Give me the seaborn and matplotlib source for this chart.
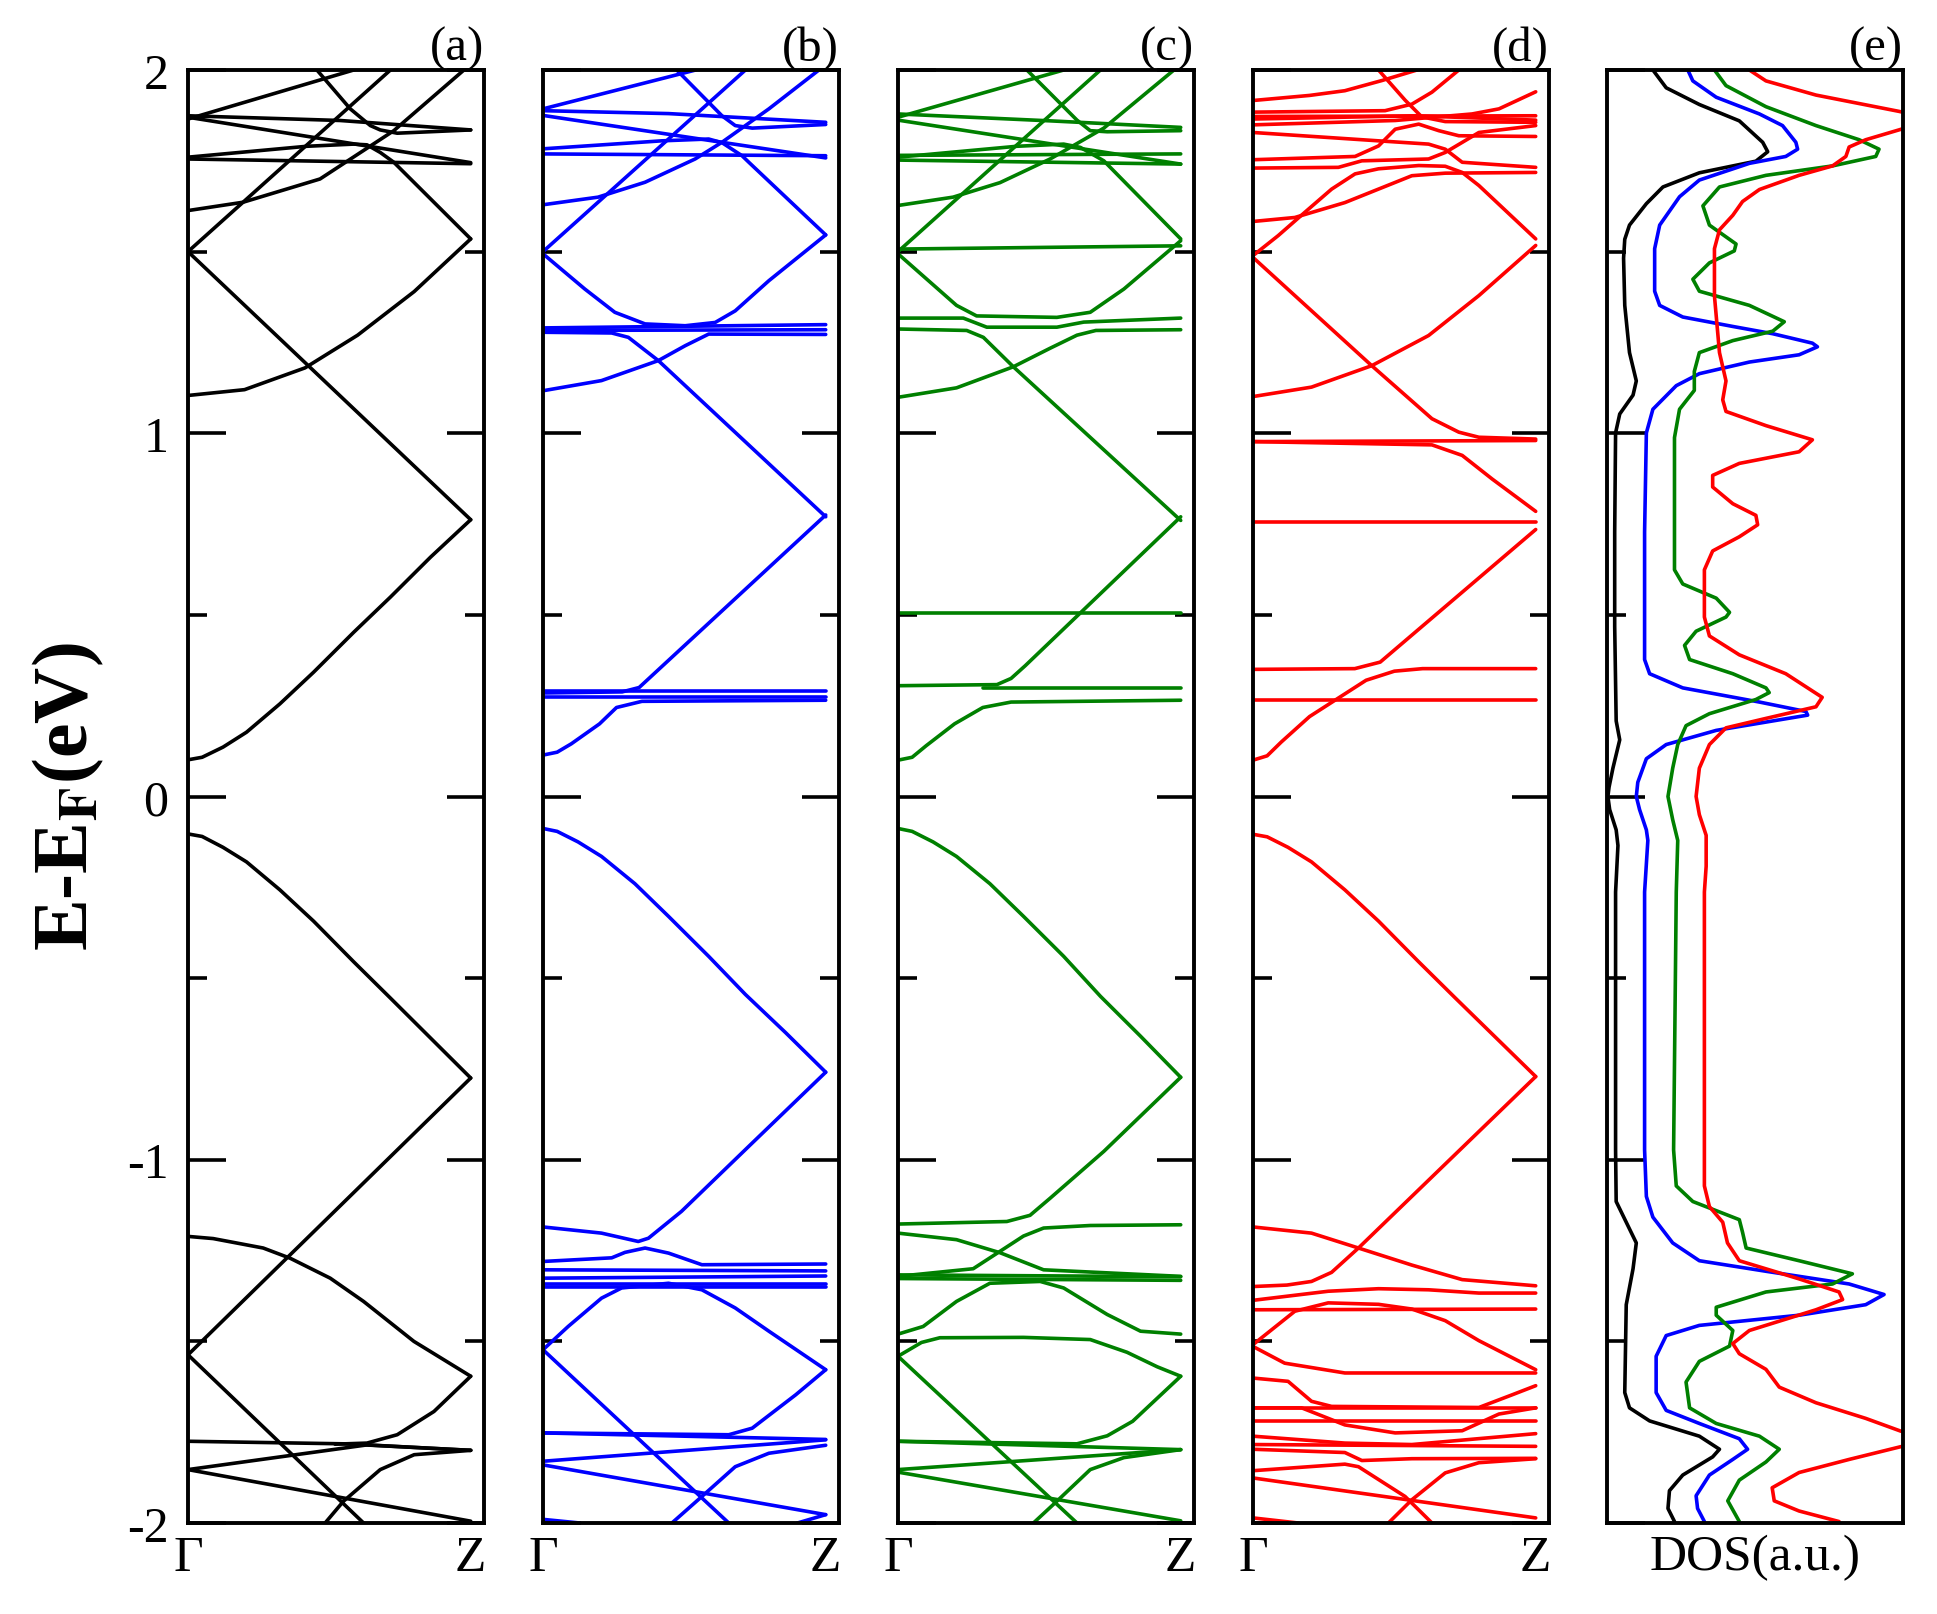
import pandas as pd
import matplotlib
matplotlib.use("Agg")
import matplotlib.pyplot as plt
from matplotlib.ticker import MultipleLocator
import seaborn as sns

# band structures: (k, E) points read along each band, k: Gamma=0, Z=1
bands_a = [
    [(0, 0.101), (0.05, 0.108), (0.124, 0.136), (0.207, 0.177), (0.325, 0.255), (0.444, 0.342), (0.586, 0.452), (0.716, 0.549), (0.858, 0.659), (1, 0.762)],
    [(0, 1.50), (1, 0.762)],
    [(0, 1.50), (0.716, 2.0), (0.75, 2.03)],
    [(0, 1.104), (0.2, 1.12), (0.414, 1.18), (0.6, 1.27), (0.8, 1.39), (1, 1.535)],
    [(0, 1.613), (0.195, 1.636), (0.467, 1.70), (0.728, 1.833), (0.976, 2.0), (1.0, 2.02)],
    [(0, 1.865), (0.586, 2.0), (0.62, 2.01)],
    [(0, 1.874), (0.538, 1.861), (1, 1.835)],
    [(0, 1.870), (1, 1.745)],
    [(0, 1.755), (1, 1.742)],
    [(0, 1.760), (0.42, 1.790), (0.586, 1.796), (0.633, 1.794), (0.68, 1.773), (0.728, 1.746), (1, 1.535)],
    [(0.43, 2.02), (0.456, 2.0), (0.574, 1.893), (0.645, 1.847), (0.68, 1.835), (0.74, 1.826), (1, 1.835)],
    [(0, -0.103), (0.05, -0.11), (0.124, -0.14), (0.207, -0.18), (0.325, -0.257), (0.444, -0.343), (0.586, -0.455), (0.716, -0.555), (0.858, -0.665), (1, -0.775)],
    [(1, -0.775), (0, -1.537)],
    [(0, -1.537), (0.621, -2.0), (0.65, -2.02)],
    [(0, -1.211), (0.089, -1.217), (0.266, -1.243), (0.361, -1.271), (0.503, -1.326), (0.621, -1.39), (0.799, -1.50), (1, -1.596)],
    [(0, -1.775), (0.55, -1.782), (1, -1.80)],
    [(0.52, -1.783), (0.633, -1.78), (0.74, -1.757), (0.87, -1.693), (1, -1.596)],
    [(0, -1.853), (0.633, -1.785), (1, -1.80)],
    [(0, -1.853), (1, -1.995)],
    [(0.46, -2.02), (0.485, -2.0), (0.55, -1.94), (0.68, -1.853), (0.8, -1.812), (1, -1.80)],
]

bands_b = [
    [(0, 1.5), (0.716, 2.0), (0.75, 2.03)],
    [(0, 1.629), (0.195, 1.65), (0.361, 1.691), (0.538, 1.755), (0.633, 1.801), (0.799, 1.893), (0.976, 2.0), (1.0, 2.02)],
    [(0, 1.494), (0.148, 1.397), (0.254, 1.333), (0.361, 1.301), (0.503, 1.296), (0.609, 1.305), (0.68, 1.337), (0.799, 1.42), (1, 1.546)],
    [(0, 1.278), (0.243, 1.276), (0.302, 1.264), (0.408, 1.2), (1, 0.77)],
    [(0, 1.117), (0.207, 1.145), (0.408, 1.2), (0.503, 1.241), (0.586, 1.273), (1, 1.272)],
    [(0, 1.29), (1, 1.299)],
    [(0, 1.283), (1, 1.285)],
    [(0, 1.893), (0.54, 2.0), (0.56, 2.01)],
    [(0, 1.888), (0.444, 1.88), (1, 1.856)],
    [(0, 1.875), (1, 1.758)],
    [(0, 1.769), (1, 1.764)],
    [(0, 1.783), (0.42, 1.805), (0.586, 1.81), (0.633, 1.80), (0.704, 1.764), (0.728, 1.746), (1, 1.546)],
    [(0.45, 2.02), (0.473, 2.0), (0.633, 1.874), (0.68, 1.847), (0.74, 1.84), (1, 1.85)],
    [(0, 0.114), (0.05, 0.122), (0.1, 0.145), (0.2, 0.2), (0.26, 0.245), (0.35, 0.262), (1, 0.265)],
    [(0, 0.285), (0.28, 0.288), (0.34, 0.30), (1, 0.775)],
    [(0, 0.29), (1, 0.29)],
    [(0, 0.275), (1, 0.275)],
    [(0, -0.088), (0.05, -0.096), (0.124, -0.125), (0.207, -0.165), (0.325, -0.24), (0.444, -0.33), (0.586, -0.44), (0.716, -0.545), (0.858, -0.65), (1, -0.759)],
    [(1, -0.759), (0.728, -0.963), (0.49, -1.142), (0.373, -1.216), (0.337, -1.225), (0.207, -1.202), (0, -1.185)],
    [(0, -1.28), (0.243, -1.27), (0.29, -1.255), (0.361, -1.243), (0.444, -1.257), (0.562, -1.289), (1, -1.287)],
    [(0, -1.303), (1, -1.306)],
    [(0, -1.326), (1, -1.32)],
    [(0, -1.343), (1, -1.343)],
    [(0, -1.35), (1, -1.35)],
    [(0, -1.523), (0.089, -1.459), (0.207, -1.381), (0.278, -1.353), (0.444, -1.34), (0.562, -1.358), (0.68, -1.408), (0.799, -1.472), (1, -1.578)],
    [(0, -1.523), (0.657, -2.0), (0.68, -2.02)],
    [(0, -1.752), (0.657, -1.757), (0.74, -1.739), (0.894, -1.647), (1, -1.578)],
    [(0, -1.752), (1, -1.77)],
    [(0, -1.83), (1, -1.771)],
    [(0.43, -2.02), (0.456, -2.0), (0.562, -1.927), (0.68, -1.845), (0.799, -1.808), (1, -1.786)],
    [(0, -1.84), (1, -1.977)],
    [(0, -1.99), (0.13, -2.0), (0.15, -2.01)],
    [(0.88, -2.01), (0.9, -2.0), (1, -1.977)],
]

bands_c = [
    [(0, 1.5), (0.716, 2.0), (0.75, 2.03)],
    [(0, 1.507), (1, 1.516)],
    [(0, 1.627), (0.195, 1.65), (0.361, 1.69), (0.538, 1.755), (0.728, 1.84), (0.976, 2.0), (1.0, 2.02)],
    [(0, 1.099), (0.207, 1.125), (0.408, 1.183), (0.538, 1.234), (0.633, 1.27), (0.7, 1.283), (1, 1.285)],
    [(0, 1.287), (0.243, 1.283), (0.302, 1.264), (0.408, 1.183), (1, 0.76)],
    [(0, 1.494), (0.207, 1.352), (0.278, 1.323), (0.562, 1.319), (0.68, 1.333), (0.799, 1.397), (1, 1.53)],
    [(0, 1.317), (0.231, 1.317), (0.314, 1.292), (0.562, 1.292), (0.657, 1.306), (1, 1.317)],
    [(0, 1.87), (0.586, 2.0), (0.62, 2.01)],
    [(0, 1.879), (0.538, 1.86), (1, 1.842)],
    [(0, 1.862), (1, 1.741)],
    [(0, 1.765), (1, 1.769)],
    [(0, 1.752), (1, 1.741)],
    [(0, 1.76), (0.42, 1.79), (0.586, 1.796), (0.645, 1.787), (0.728, 1.75), (1, 1.535)],
    [(0.43, 2.02), (0.456, 2.0), (0.633, 1.862), (0.68, 1.833), (0.74, 1.83), (1, 1.833)],
    [(0, 0.10), (0.05, 0.108), (0.1, 0.14), (0.2, 0.2), (0.3, 0.245), (0.4, 0.26), (1, 0.265)],
    [(0, 0.305), (0.35, 0.308), (0.40, 0.325), (0.45, 0.36), (1, 0.77)],
    [(0.3, 0.30), (1, 0.30)],
    [(0, 0.505), (1, 0.505)],
    [(0, -0.088), (0.05, -0.096), (0.124, -0.125), (0.207, -0.165), (0.325, -0.24), (0.444, -0.33), (0.586, -0.44), (0.716, -0.55), (0.858, -0.66), (1, -0.773)],
    [(1, -0.773), (0.728, -0.977), (0.538, -1.106), (0.467, -1.153), (0.385, -1.17), (0, -1.177)],
    [(0, -1.321), (0.266, -1.30), (0.361, -1.252), (0.444, -1.21), (0.515, -1.188), (0.68, -1.181), (1, -1.179)],
    [(0, -1.202), (0.207, -1.22), (0.361, -1.256), (0.515, -1.303), (1, -1.321)],
    [(0, -1.317), (1, -1.322)],
    [(0, -1.327), (1, -1.332)],
    [(0, -1.48), (0.089, -1.459), (0.207, -1.39), (0.325, -1.34), (0.503, -1.335), (0.586, -1.353), (0.74, -1.426), (0.858, -1.472), (1, -1.48)],
    [(0, -1.541), (0.083, -1.503), (0.148, -1.49), (0.444, -1.489), (0.68, -1.495), (0.81, -1.53), (0.917, -1.57), (1, -1.596)],
    [(0, -1.541), (0.633, -2.0), (0.66, -2.02)],
    [(0, -1.775), (0.633, -1.782), (0.74, -1.76), (0.83, -1.72), (1, -1.596)],
    [(0, -1.775), (1, -1.798)],
    [(0, -1.853), (1, -1.798)],
    [(0, -1.86), (1, -1.994)],
    [(0.45, -2.02), (0.479, -2.0), (0.562, -1.94), (0.68, -1.853), (0.799, -1.82), (1, -1.798)],
]

bands_d = [
    [(0, 1.916), (0.2, 1.93), (0.325, 1.943), (0.456, 1.971), (0.58, 2.0), (0.6, 2.01)],
    [(0.42, 2.02), (0.444, 2.0), (0.538, 1.917), (0.597, 1.871), (0.68, 1.858), (1, 1.856)],
    [(0, 1.884), (0.467, 1.888), (0.562, 1.906), (0.633, 1.939), (0.728, 2.0), (0.75, 2.02)],
    [(0, 1.872), (1, 1.874)],
    [(0, 1.865), (0.574, 1.874), (1, 1.862)],
    [(0, 1.849), (0.503, 1.861), (0.775, 1.879), (0.87, 1.893), (1, 1.94)],
    [(0, 1.828), (0.444, 1.805), (0.621, 1.796), (0.68, 1.782), (0.74, 1.746), (1, 1.732)],
    [(0, 1.753), (0.361, 1.762), (0.444, 1.791), (0.503, 1.837), (0.586, 1.851), (0.657, 1.833), (0.728, 1.819), (1, 1.817)],
    [(0, 1.73), (0.302, 1.732), (0.385, 1.75), (0.621, 1.755), (0.68, 1.773), (0.799, 1.828), (1, 1.847)],
    [(0, 1.489), (0.089, 1.544), (0.183, 1.608), (0.278, 1.672), (0.361, 1.714), (0.444, 1.728), (0.586, 1.737), (0.68, 1.735), (0.74, 1.718), (0.799, 1.682), (1, 1.535)],
    [(0, 1.583), (0.148, 1.594), (0.325, 1.635), (0.562, 1.709), (0.68, 1.716), (1, 1.718)],
    [(0, 1.101), (0.207, 1.127), (0.42, 1.186), (0.621, 1.269), (0.799, 1.379), (1, 1.517)],
    [(0, 1.484), (0.42, 1.186), (0.633, 1.04), (0.728, 1.003), (0.799, 0.989), (1, 0.984)],
    [(0, 0.977), (0.633, 0.968), (0.74, 0.939), (0.846, 0.874), (1, 0.785)],
    [(0, 0.977), (1, 0.98)],
    [(0, 0.757), (1, 0.757)],
    [(0, 0.35), (0.36, 0.352), (0.45, 0.37), (1, 0.735)],
    [(0, 0.10), (0.05, 0.112), (0.1, 0.15), (0.2, 0.22), (0.3, 0.27), (0.4, 0.32), (0.5, 0.345), (0.6, 0.352), (1, 0.352)],
    [(0, 0.265), (1, 0.265)],
    [(0, -0.104), (0.05, -0.111), (0.124, -0.14), (0.207, -0.18), (0.325, -0.257), (0.444, -0.343), (0.586, -0.455), (0.716, -0.555), (0.858, -0.663), (1, -0.771)],
    [(1, -0.771), (0.373, -1.243), (0.278, -1.31), (0.207, -1.335), (0.12, -1.345), (0, -1.349)],
    [(0, -1.185), (0.207, -1.202), (0.373, -1.243), (0.562, -1.29), (0.74, -1.33), (1, -1.347)],
    [(0, -1.387), (0.266, -1.362), (0.444, -1.355), (0.621, -1.358), (0.799, -1.367), (1, -1.367)],
    [(0, -1.413), (1, -1.411)],
    [(0, -1.509), (0.148, -1.417), (0.266, -1.394), (0.444, -1.398), (0.562, -1.411), (0.68, -1.443), (0.799, -1.498), (1, -1.578)],
    [(0, -1.514), (0.112, -1.56), (0.325, -1.587), (1, -1.587)],
    [(0, -1.601), (0.124, -1.61), (0.207, -1.665), (0.278, -1.679), (0.799, -1.682), (0.917, -1.647), (1, -1.622)],
    [(0, -1.683), (1, -1.683)],
    [(0, -1.683), (0.172, -1.683), (0.325, -1.73), (0.503, -1.752), (0.74, -1.746), (0.87, -1.70), (1, -1.683)],
    [(0, -1.718), (1, -1.718)],
    [(0, -1.761), (0.325, -1.78), (0.562, -1.784), (1, -1.754)],
    [(0, -1.784), (1, -1.789)],
    [(0, -1.797), (0.325, -1.806), (0.385, -1.828), (0.562, -1.823), (1, -1.822)],
    [(0, -1.856), (0.325, -1.838), (0.373, -1.845), (0.538, -1.927), (0.633, -2.0), (0.65, -2.02)],
    [(0, -1.876), (1, -1.986)],
    [(0.45, -2.02), (0.479, -2.0), (0.562, -1.936), (0.68, -1.862), (0.799, -1.834), (1, -1.823)],
    [(0, -1.986), (0.16, -2.0), (0.18, -2.01)],
]

# DOS curves: (DOS, E), DOS in arbitrary units (offset per system)
dos_black = [
    (0.155, 2.0), (0.2, 1.951), (0.312, 1.905), (0.447, 1.86), (0.526, 1.801), (0.543, 1.775), (0.503, 1.749),
    (0.312, 1.717), (0.189, 1.678), (0.133, 1.632), (0.076, 1.573), (0.06, 1.534), (0.056, 1.482), (0.06, 1.352),
    (0.076, 1.222), (0.099, 1.144), (0.088, 1.105), (0.043, 1.053), (0.029, 1.001), (0.026, 0.728), (0.026, 0.468),
    (0.031, 0.208), (0.043, 0.156), (0.02, 0.078), (0.007, 0.026), (0.003, 0.0), (0.009, -0.036), (0.031, -0.092),
    (0.037, -0.135), (0.029, -0.263), (0.029, -0.973), (0.031, -1.115), (0.065, -1.172), (0.099, -1.229),
    (0.088, -1.3), (0.065, -1.399), (0.06, -1.641), (0.076, -1.683), (0.144, -1.719), (0.312, -1.761),
    (0.38, -1.797), (0.357, -1.818), (0.256, -1.868), (0.211, -1.911), (0.206, -1.96), (0.228, -1.996),
]
dos_blue = [
    (0.273, 2.0), (0.29, 1.97), (0.369, 1.925), (0.515, 1.879), (0.593, 1.847), (0.638, 1.801), (0.644, 1.782),
    (0.604, 1.762), (0.481, 1.743), (0.312, 1.697), (0.245, 1.651), (0.178, 1.573), (0.161, 1.508), (0.161, 1.391),
    (0.178, 1.352), (0.256, 1.32), (0.425, 1.294), (0.56, 1.274), (0.694, 1.248), (0.711, 1.238), (0.649, 1.216),
    (0.481, 1.196), (0.312, 1.164), (0.234, 1.131), (0.155, 1.066), (0.133, 1.001), (0.127, 0.728), (0.127, 0.377),
    (0.144, 0.338), (0.256, 0.299), (0.515, 0.26), (0.672, 0.234), (0.678, 0.224), (0.56, 0.208), (0.369, 0.182),
    (0.2, 0.143), (0.133, 0.104), (0.104, 0.039), (0.099, 0.0), (0.11, -0.036), (0.133, -0.092), (0.138, -0.121),
    (0.127, -0.263), (0.127, -0.973), (0.133, -1.101), (0.155, -1.158), (0.222, -1.229), (0.312, -1.278),
    (0.537, -1.307), (0.818, -1.342), (0.936, -1.371), (0.874, -1.399), (0.649, -1.428), (0.312, -1.456),
    (0.2, -1.484), (0.166, -1.541), (0.166, -1.641), (0.2, -1.69), (0.312, -1.726), (0.447, -1.768),
    (0.475, -1.797), (0.425, -1.825), (0.346, -1.868), (0.301, -1.925), (0.306, -1.96), (0.329, -1.996),
]
dos_green = [
    (0.363, 2.0), (0.402, 1.957), (0.537, 1.899), (0.706, 1.847), (0.852, 1.808), (0.919, 1.782), (0.908, 1.762),
    (0.762, 1.736), (0.537, 1.71), (0.38, 1.678), (0.324, 1.626), (0.346, 1.573), (0.436, 1.521), (0.43, 1.502),
    (0.346, 1.469), (0.29, 1.424), (0.312, 1.391), (0.481, 1.352), (0.599, 1.307), (0.56, 1.281), (0.425, 1.255),
    (0.312, 1.222), (0.295, 1.17), (0.295, 1.118), (0.245, 1.066), (0.228, 0.988), (0.228, 0.728), (0.228, 0.624),
    (0.256, 0.585), (0.369, 0.546), (0.414, 0.507), (0.402, 0.494), (0.301, 0.455), (0.262, 0.416), (0.279, 0.377),
    (0.425, 0.338), (0.537, 0.299), (0.548, 0.286), (0.503, 0.267), (0.346, 0.228), (0.267, 0.195), (0.239, 0.143),
    (0.222, 0.078), (0.206, 0.0), (0.222, -0.064), (0.239, -0.121), (0.234, -0.263), (0.225, -0.973),
    (0.234, -1.072), (0.29, -1.115), (0.447, -1.165), (0.458, -1.2), (0.47, -1.243), (0.649, -1.278),
    (0.829, -1.314), (0.762, -1.342), (0.537, -1.364), (0.369, -1.406), (0.369, -1.428), (0.425, -1.47),
    (0.414, -1.513), (0.312, -1.555), (0.267, -1.612), (0.279, -1.683), (0.369, -1.726), (0.515, -1.761),
    (0.582, -1.797), (0.537, -1.832), (0.447, -1.882), (0.408, -1.939), (0.447, -1.996),
]
dos_red = [
    (0.481, 2.0), (0.537, 1.97), (0.706, 1.931), (0.987, 1.886), (1.1, 1.865), (0.99, 1.836), (0.874, 1.808),
    (0.818, 1.788), (0.807, 1.762), (0.762, 1.736), (0.649, 1.71), (0.515, 1.671), (0.458, 1.638), (0.425, 1.6),
    (0.38, 1.56), (0.363, 1.508), (0.363, 1.378), (0.38, 1.222), (0.402, 1.144), (0.391, 1.092), (0.402, 1.06),
    (0.537, 1.021), (0.694, 0.982), (0.649, 0.949), (0.447, 0.917), (0.357, 0.884), (0.357, 0.852), (0.425, 0.806),
    (0.503, 0.774), (0.509, 0.748), (0.447, 0.715), (0.357, 0.676), (0.329, 0.624), (0.329, 0.494), (0.346, 0.442),
    (0.447, 0.39), (0.604, 0.338), (0.727, 0.273), (0.706, 0.247), (0.537, 0.215), (0.402, 0.189), (0.346, 0.143),
    (0.312, 0.078), (0.301, 0.0), (0.312, -0.05), (0.335, -0.107), (0.335, -0.192), (0.329, -0.263),
    (0.329, -1.072), (0.346, -1.129), (0.391, -1.172), (0.407, -1.229), (0.447, -1.278), (0.649, -1.328),
    (0.784, -1.364), (0.796, -1.385), (0.706, -1.413), (0.481, -1.47), (0.425, -1.506), (0.447, -1.534),
    (0.537, -1.577), (0.582, -1.626), (0.706, -1.669), (0.874, -1.712), (0.992, -1.747), (1.1, -1.77),
    (0.992, -1.79), (0.818, -1.825), (0.649, -1.861), (0.558, -1.903), (0.565, -1.939), (0.649, -1.967),
    (0.784, -1.996),
]

panel_labels = ["(a)", "(b)", "(c)", "(d)", "(e)"]
colors = ["black", "#0000ff", "#008000", "#ff0000"]
kpath_labels = ["\u0393", "Z"]
ytick_values = [-2, -1, 0, 1, 2]
ytick_labels = ["-2", "-1", "0", "1", "2"]


def band_frame(bands):
    rows = []
    for i, band in enumerate(bands):
        for k, e in band:
            rows.append((i, k, e))
    return pd.DataFrame(rows, columns=["band", "k", "E"])


sns.set_style("ticks")
plt.rcParams["font.family"] = ["Liberation Serif", "DejaVu Serif"]
plt.rcParams["mathtext.fontset"] = "stix"
plt.rcParams["lines.solid_joinstyle"] = "round"
plt.rcParams["lines.linewidth"] = 2.6

fig = plt.figure(figsize=(19.37, 16.15), dpi=100)
lefts = [188, 543, 898, 1253, 1607]
axes = [fig.add_axes([l / 1937, 91 / 1615, 296 / 1937, 1453 / 1615]) for l in lefts]

for i, (ax, bands) in enumerate(zip(axes[:4], [bands_a, bands_b, bands_c, bands_d])):
    sns.lineplot(data=band_frame(bands), x="k", y="E", units="band", estimator=None,
                 sort=False, color=colors[i], linewidth=2.6, ax=ax, legend=False)
    ax.set_xlim(0, 1.047)
    ax.set_xticks([0, 1])
    ax.set_xticklabels(kpath_labels)
    ax.tick_params(axis="y", which="both", direction="in", left=True, right=True,
                   labelleft=(i == 0))

# DOS panel
ax = axes[4]
dos_rows = []
for name, curve in zip(["black", "blue", "green", "red"], [dos_black, dos_blue, dos_green, dos_red]):
    for d, e in curve:
        dos_rows.append((name, d, e))
dos_df = pd.DataFrame(dos_rows, columns=["sys", "dos", "E"])
sns.lineplot(data=dos_df, x="dos", y="E", hue="sys", palette=dict(zip(["black", "blue", "green", "red"], colors)),
             estimator=None, sort=False, linewidth=2.6, ax=ax, legend=False)
ax.set_xlim(0, 1)
ax.set_xticks([0.5])
ax.set_xticklabels(["DOS(a.u.)"])
ax.tick_params(axis="y", which="both", direction="in", left=True, right=False, labelleft=False)

for ax, lab in zip(axes, panel_labels):
    ax.set_ylim(-2, 2)
    ax.set_yticks(ytick_values)
    ax.set_yticklabels(ytick_labels)
    ax.yaxis.set_minor_locator(MultipleLocator(0.5))
    ax.tick_params(axis="y", which="major", length=27, labelsize=36, pad=14, width=2.6, color="black")
    ax.tick_params(axis="y", which="minor", length=13.5, width=2.6, color="black")
    ax.tick_params(axis="x", length=0, labelsize=37, pad=8, labelcolor="black")
    ax.tick_params(axis="y", labelcolor="black")
    ax.set_xlabel("")
    ax.set_ylabel("")
    for s in ax.spines.values():
        s.set_linewidth(2.8)
        s.set_color("black")
        s.set_visible(True)
    ax.text(1.0, 1.0, lab, transform=ax.transAxes, ha="right", va="bottom", fontsize=35, color="black")

fig.text(68 / 1937, 1 - 797 / 1615, r"E-E$_\mathbf{F}$(eV)", rotation=90, ha="center", va="center",
         fontsize=56, fontweight="bold", color="black")

fig.savefig("out.png", dpi=100)
